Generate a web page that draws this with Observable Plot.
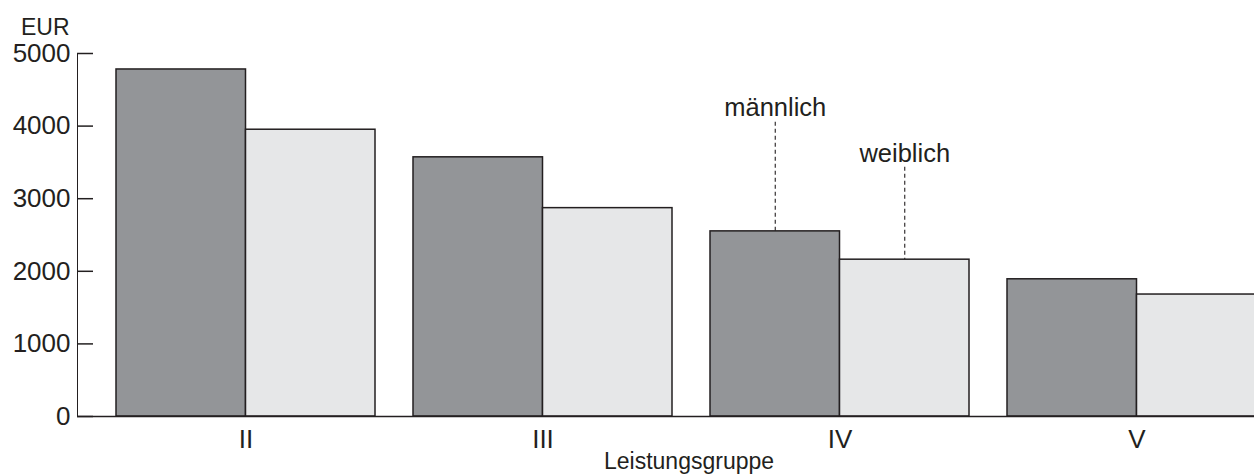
<!DOCTYPE html>
<html>
<head>
<meta charset="utf-8">
<script src="https://cdn.jsdelivr.net/npm/d3@7"></script>
<script src="https://cdn.jsdelivr.net/npm/@observablehq/plot@0.6"></script>
<style>
  html, body { margin: 0; padding: 0; background: #fff; overflow: hidden; }
</style>
</head>
<body>
<div id="chart"></div>
<script>
const groups = ["II", "III", "IV", "V"];
const maennlich = [4780, 3570, 2550, 1890];
const weiblich = [3950, 2870, 2160, 1680];
const yTicks = [0, 1000, 2000, 3000, 4000, 5000];
const seriesLabels = ["männlich", "weiblich"];
const yUnit = "EUR";
const xTitle = "Leistungsgruppe";
const annotatedGroup = "IV";

const dataM = groups.map((g, i) => ({group: g, value: maennlich[i]}));
const dataW = groups.map((g, i) => ({group: g, value: weiblich[i]}));

const W = 1254, H = 475;
const mL = 77, mR = 0, mT = 53, mB = 59;
const half = 129.5;
const ink = "#231f20";

const chart = Plot.plot({
  width: W,
  height: H,
  marginLeft: mL,
  marginRight: mR,
  marginTop: mT,
  marginBottom: mB,
  style: {fontFamily: "'Liberation Sans', Arial, sans-serif", fontSize: "26px", color: ink, background: "#fff", overflow: "hidden"},
  x: {domain: groups, range: [96.5, 1284.5], paddingInner: 0.128, paddingOuter: 0.064, tickSize: 0, tickPadding: 13, label: null},
  y: {domain: [0, 5000], ticks: yTicks, tickSize: 0, tickPadding: 7, tickFormat: d => String(d), label: null, line: true},
  marks: [
    // annotation leader lines (lower parts hidden by bars drawn afterwards)
    Plot.ruleX([annotatedGroup], {x: d => d, dx: -half / 2, insetTop: 68.7, stroke: ink, strokeWidth: 1.1, strokeDasharray: "4,3"}),
    Plot.ruleX([annotatedGroup], {x: d => d, dx: half / 2, insetTop: 113.7, stroke: ink, strokeWidth: 1.1, strokeDasharray: "4,3"}),
    Plot.barY(dataM, {x: "group", y: "value", insetRight: half, insetLeft: 0, fill: "#939598", stroke: ink, strokeWidth: 1.5}),
    Plot.barY(dataW, {x: "group", y: "value", insetLeft: half, insetRight: 0, fill: "#e6e7e8", stroke: ink, strokeWidth: 1.5}),
    Plot.ruleY([0], {stroke: ink, strokeWidth: 1.5}),
    Plot.ruleY(yTicks, {y: d => d, insetRight: W - mL - mR - 16, stroke: ink, strokeWidth: 1.5}),
    Plot.text([seriesLabels[0]], {x: () => annotatedGroup, frameAnchor: "top", dx: -half / 2, dy: 62, lineAnchor: "bottom", text: d => d, fontSize: 25.5, fill: ink}),
    Plot.text([seriesLabels[1]], {x: () => annotatedGroup, frameAnchor: "top", dx: half / 2, dy: 108, lineAnchor: "bottom", text: d => d, fontSize: 25.5, fill: ink}),
    Plot.text([yUnit], {frameAnchor: "top-left", dx: -8, dy: -19, textAnchor: "end", lineAnchor: "bottom", text: d => d, fontSize: 23, fill: ink}),
    Plot.text([xTitle], {frameAnchor: "bottom", dx: 23, dy: 52, lineAnchor: "bottom", text: d => d, fontSize: 23, fill: ink})
  ]
});
document.getElementById("chart").appendChild(chart);
</script>
</body>
</html>
